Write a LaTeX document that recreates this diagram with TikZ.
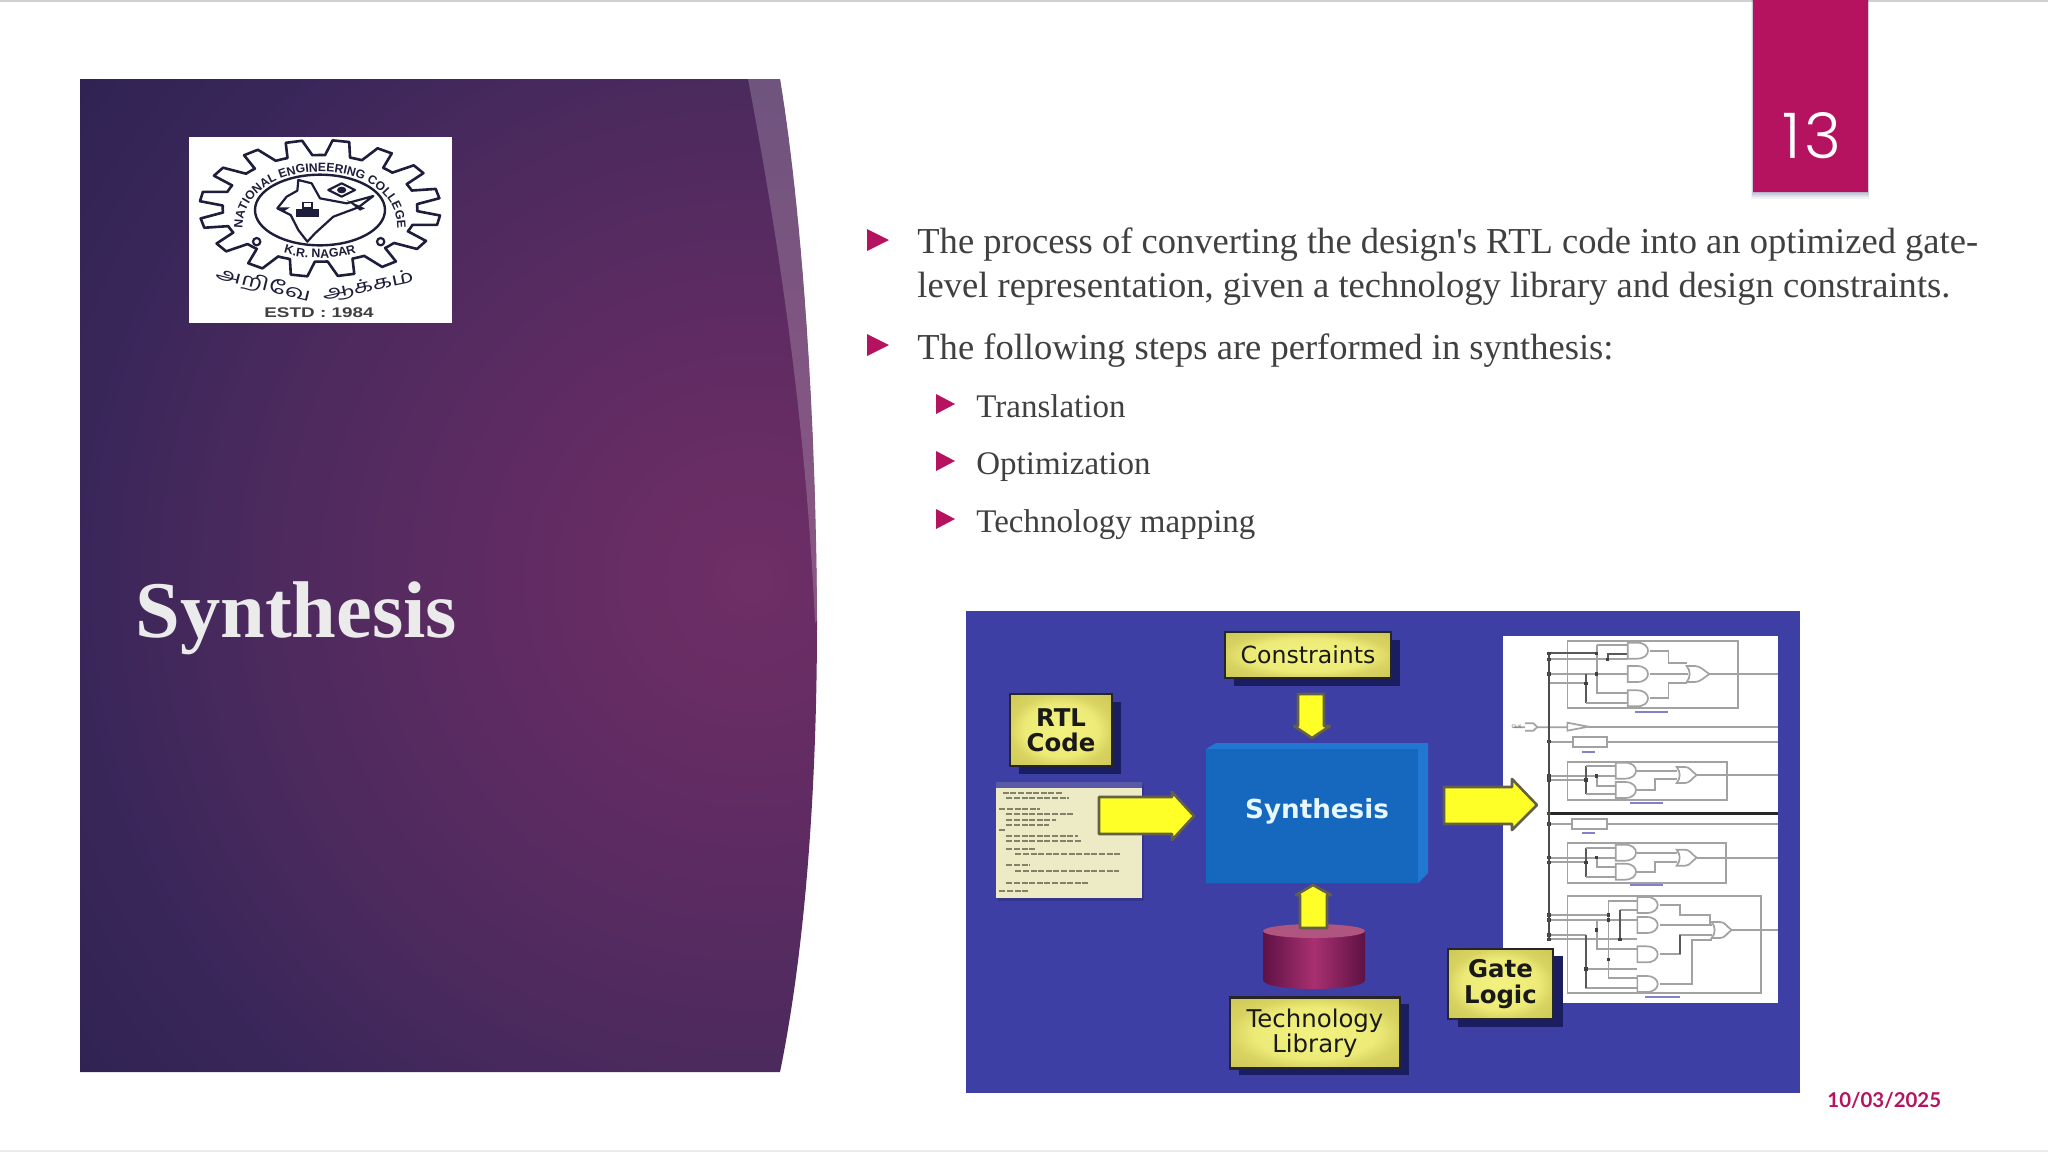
\documentclass[tikz,border=0pt]{standalone}
\usepackage{fontspec}
\usetikzlibrary{decorations.text}
\setmainfont{Liberation Serif}
\newfontfamily\numfont[UprightFont=* Light]{Poppins}
\newfontfamily\datefont{Lato}
\newfontfamily\boxfont{DejaVu Sans}
\newfontfamily\logofont{Liberation Sans}
\newfontfamily\tamilfont[Script=Tamil]{Hind Madurai}
\definecolor{magentab}{HTML}{B5135F}
\definecolor{bodytext}{HTML}{404040}
\definecolor{dbg}{HTML}{3D3FA5}
\definecolor{shad}{HTML}{1A1E60}
\definecolor{inkn}{HTML}{1E1E3C}
\definecolor{gline}{HTML}{A2A2A2}
\definecolor{yell}{HTML}{FFFF28}
\definecolor{synfront}{HTML}{1668BE}
\definecolor{synbevel}{HTML}{2277D0}
\definecolor{codebg}{HTML}{EDEBC5}
\definecolor{cylA}{HTML}{5E1245}
\definecolor{cylB}{HTML}{A83070}
\definecolor{cylT}{HTML}{B0557F}
\pgfdeclareradialshading{panelrad}{\pgfpoint{0bp}{0bp}}{rgb(0bp)=(.435,.18,.40);rgb(7.5bp)=(.375,.17,.385);rgb(15bp)=(.30,.165,.37);rgb(21bp)=(.225,.15,.35);rgb(27bp)=(.18,.135,.32);rgb(50bp)=(.18,.135,.32)}
\pgfdeclareradialshading{boxrad}{\pgfpoint{0bp}{0bp}}{rgb(0bp)=(.95,.95,.50);rgb(18bp)=(.93,.92,.47);rgb(25bp)=(.85,.83,.38);rgb(50bp)=(.74,.71,.30)}
\tikzset{
  yb/.style={draw=black!85,line width=1.1pt,shade,shading=boxrad,inner sep=0pt,align=center,text=black!90},
  bshadow/.style={fill=shad},
  arrowy/.style={fill=yell,draw=black!70!yellow,line width=1.3pt,line join=round},
  bulletm/.style={fill=magentab},
  gl/.style={draw=gline,line width=.85pt},
  gd/.style={draw=black!65,line width=1pt},
  dotd/.style={fill=black!75},
  bodyl/.style={anchor=base west,inner sep=0pt,text=bodytext,font=\fontsize{18.27}{20}\selectfont},
  subl/.style={anchor=base west,inner sep=0pt,text=bodytext,font=\fontsize{16.5}{20}\selectfont},
  logoline/.style={draw=inkn,line width=1.1pt,line join=round},
}
\newcommand\gatea[2]{\draw[gl,fill=white] (#1,#2-24) -- (#1+28,#2-24) .. controls (#1+72,#2-24) and (#1+72,#2+24) .. (#1+28,#2+24) -- (#1,#2+24) -- cycle;}
\newcommand\gateo[3]{\draw[gl,fill=white] (#1,#2-24) -- (#1+25,#2-24) .. controls (#1+40,#2-24) and (#3-15,#2-10) .. (#3,#2) .. controls (#3-15,#2+10) and (#1+40,#2+24) .. (#1+25,#2+24) -- (#1,#2+24) .. controls (#1+12,#2+10) and (#1+12,#2-10) .. (#1,#2-24) -- cycle;}
\newcommand\wdot[2]{\fill[dotd] (#1-5,#2-5) rectangle (#1+5,#2+5);}
\begin{document}
\begin{tikzpicture}[x=0.5pt,y=-0.5pt]
\useasboundingbox (0,0) rectangle (2048,1152);
\fill[white] (0,0) rectangle (2048,1152);
\fill[black!18] (0,0) rectangle (2048,1.5);
\fill[black!8] (0,1150) rectangle (2048,1152);
% left panel
\begin{scope}
\clip (80,79) -- (780,79) .. controls (800,200) and (816,400) .. (817,620) .. controls (817,790) and (805,950) .. (780,1072) -- (80,1072) -- cycle;
\shade[shading=panelrad] (-50,-220) rectangle (1550,1380);
\fill[white,opacity=.2] (748,79) -- (780,79) .. controls (800,200) and (816,400) .. (817,620) -- (815,623) .. controls (808,470) and (790,300) .. (748,79) -- cycle;
\end{scope}
\node[anchor=base west,inner sep=0pt,text=white!92!black,font=\fontsize{40.2}{44}\selectfont\bfseries] (title) at (135,637) {Synthesis};
% logo
\node[fill=white,minimum width=263*0.5pt,minimum height=186*0.5pt,inner sep=0pt,anchor=north west] (logo) at (189,137) {};
\begin{scope}[shift={(170,120)},scale=1/3]
\draw[logoline,line width=1.3pt] ({450+292*cos(0)},{265+160*sin(0)})
 \foreach \a in {0,22.5,...,337.5}{
   -- ({450+292*cos(\a+3)},{265+160*sin(\a+3)})
   -- ({450+362*cos(\a+6)},{265+205*sin(\a+6)})
   -- ({450+362*cos(\a+14)},{265+205*sin(\a+14)})
   -- ({450+292*cos(\a+18)},{265+160*sin(\a+18)})
   -- ({450+292*cos(\a+22.5)},{265+160*sin(\a+22.5)})
 } -- cycle;
\draw[logoline,line width=1.2pt] (450,270) ellipse [x radius=195,y radius=106];
\draw[logoline] (260,365) circle [radius=11];
\draw[logoline] (632,365) circle [radius=11];
\draw[logoline] (385,180) -- (425,190) -- (450,235) -- (530,250) -- (610,228) -- (565,262) -- (490,290) -- (435,340) -- (412,365) -- (385,330) -- (362,285) -- (322,265) -- (350,230) -- (382,212) -- cycle;
\fill[inkn] (378,268) rectangle (448,290);
\fill[inkn] (395,245) rectangle (430,268);
\fill[white] (403,250) rectangle (422,262);
\fill[inkn] (325,262) -- (360,262) -- (340,275) -- cycle;
\draw[logoline,line width=1.1pt] (475,210) -- (515,190) -- (555,210) -- (515,230) -- cycle;
\fill[inkn] (515,210) ellipse [x radius=14,y radius=10];
\fill[inkn] (530,240) -- (585,265) -- (570,272) -- cycle;
\path[decorate,decoration={text along path,text align=center,text={|\logofont\bfseries\fontsize{6.1}{7}\selectfont\color{inkn}|NATIONAL ENGINEERING COLLEGE}}] (218,325) .. controls (218,98) and (682,98) .. (682,325);
\path[decorate,decoration={text along path,text align=center,text={|\logofont\bfseries\fontsize{6.2}{7}\selectfont\color{inkn}|K.R. NAGAR}}] (305,372) .. controls (330,428) and (570,428) .. (595,372);
\node[rotate=-14,inner sep=0pt,text=inkn] (tamA) at (280,495) {\scalebox{1.45}[1]{\tamilfont\fontsize{9}{10}\selectfont அறிவே}};
\node[rotate=12,inner sep=0pt,text=inkn] (tamB) at (595,500) {\scalebox{1.4}[1]{\tamilfont\fontsize{9}{10}\selectfont ஆக்கம்}};
\node[inner sep=0pt,text=black!75] (estd) at (447,578) {\scalebox{1.35}[1]{\logofont\bfseries\fontsize{7}{8}\selectfont ESTD : 1984}};
\end{scope}
% page tab
\foreach \o/\t in {7/.05,5/.07,3/.09,1/.12}{\fill[blue!30!black,opacity=\t] (1753-\o*.3,0) rectangle (1868+\o*.2,192+\o);}
\node[fill=magentab,minimum width=115*0.5pt,minimum height=192*0.5pt,inner sep=0pt,anchor=north west] (tab) at (1753,0) {};
\node[inner sep=0pt,text=white,font=\numfont\fontsize{31.5}{34}\selectfont] (pnum) at (1812,136) {1\kern1.8pt 3};
% body text
\foreach \y in {240,345}{\fill[bulletm] (867,\y-11) -- (889,\y) -- (867,\y+11) -- cycle;}
\foreach \y in {404,461,519}{\fill[bulletm] (936,\y-10) -- (955,\y) -- (936,\y+10) -- cycle;}
\node[bodyl] (l1) at (917,253) {The process of converting the design\textquotesingle s RTL code into an optimized gate-};
\node[bodyl] (l2) at (917,297) {level representation, given a technology library and design constraints.};
\node[bodyl] (l3) at (917,359) {The following steps are performed in synthesis:};
\node[subl] (s1) at (976,417) {Translation};
\node[subl] (s2) at (976,474) {Optimization};
\node[subl] (s3) at (976,532) {Technology mapping};
\node[anchor=base west,inner sep=0pt,text=magentab,font=\datefont\bfseries\fontsize{10.2}{12}\selectfont] (date) at (1827,1107) {10/03/2025};
% diagram background
\fill[dbg] (966,611) rectangle (1800,1093);
% white circuit panel
\fill[white] (1503,636) rectangle (1778,1003);
\begin{scope}[shift={(1480,620)},scale=1/3]
\draw[gl] (262,62) rectangle (773,265);
\draw[gl] (262,425) rectangle (740,540);
\draw[gl] (262,668) rectangle (738,788);
\draw[gl] (262,828) rectangle (842,1118);
\draw[gl] (510,92) -- (565,92) -- (565,130) -- (620,130);
\draw[gl] (510,162) -- (625,162);
\draw[gl] (510,235) -- (565,235) -- (565,190) -- (620,190);
\draw[gl] (688,162) -- (893,162);
\draw[gd] (207,100) -- (350,100) (383,118) -- (383,102) -- (443,102);
\draw[gl] (207,118) -- (383,118) -- (443,118) (350,75) -- (443,75) (350,75) -- (350,220) -- (443,220);
\draw[gl] (207,162) -- (443,162) (207,190) -- (318,190);
\draw[gd] (318,162) -- (318,248);
\draw[gl] (318,248) -- (443,248);
\gatea{443}{92}\gatea{443}{162}\gatea{443}{235}\gateo{620}{162}{688}
\wdot{350}{100}\wdot{383}{118}\wdot{350}{162}\wdot{318}{190}\wdot{207}{100}\wdot{207}{118}\wdot{207}{162}
\draw[gl] (100,322) -- (135,322) (135,310) -- (160,310) -- (172,321) -- (160,332) -- (135,332) (172,322) -- (262,322);
\draw[gl,fill=white] (262,308) -- (325,320) -- (262,332) -- cycle;
\draw[gl] (325,322) -- (893,322);
\node[inner sep=0pt,text=black!60,font=\logofont\fontsize{2.6}{3}\selectfont] (clk) at (110,320) {CLK};
\draw[gl] (207,365) -- (278,365) (380,365) -- (893,365);
\draw[gl,fill=white] (278,350) rectangle (380,380);
\wdot{207}{365}
\draw[gl] (207,468) -- (407,468) (207,480) -- (318,480) (350,468) -- (350,498) -- (407,498);
\draw[gd] (318,438) -- (318,522);
\draw[gl] (318,438) -- (407,438) (318,522) -- (407,522);
\draw[gl] (470,452) -- (590,452) (470,510) -- (525,510) -- (525,478) -- (590,478) (650,465) -- (893,465);
\gatea{407}{452}\gatea{407}{510}\gateo{590}{465}{650}
\wdot{350}{468}\wdot{318}{480}\wdot{207}{468}\wdot{207}{480}
\draw[black!85,line width=1.3pt] (207,580) -- (893,580);
\wdot{207}{580}
\draw[gl] (207,612) -- (275,612) (380,612) -- (893,612);
\draw[gl,fill=white] (275,597) rectangle (380,628);
\wdot{207}{612}
\draw[gl] (207,713) -- (407,713) (207,727) -- (318,727) (350,713) -- (350,742) -- (407,742);
\draw[gd] (318,683) -- (318,770);
\draw[gl] (318,683) -- (407,683) (318,770) -- (407,770);
\draw[gl] (470,698) -- (590,698) (470,755) -- (525,755) -- (525,726) -- (590,726) (650,713) -- (893,713);
\gatea{407}{698}\gatea{407}{755}\gateo{590}{713}{650}
\wdot{350}{713}\wdot{318}{727}\wdot{207}{713}\wdot{207}{727}
\draw[gl] (207,885) -- (385,885) (207,900) -- (472,900) (207,945) -- (318,945) (207,958) -- (472,958);
\draw[gl] (385,842) -- (472,842) (385,842) -- (385,1075) -- (472,1075) (350,900) -- (350,988) -- (472,988) (318,945) -- (318,1105) -- (472,1105) (318,1047) -- (472,1047) (420,870) -- (472,870);
\draw[gd] (420,870) -- (420,958) (318,945) -- (318,1105);
\draw[gl] (540,855) -- (600,855) -- (600,885) -- (690,885) -- (690,915);
\draw[gl] (540,915) -- (695,915) (540,1003) -- (600,1003) -- (600,945) -- (695,945) (540,1092) -- (635,1092) -- (635,960) -- (695,960);
\draw[gd] (600,945) -- (600,1003);
\draw[gl] (755,930) -- (893,930);
\gatea{472}{855}\gatea{472}{915}\gatea{472}{1003}\gatea{472}{1092}\gateo{695}{930}{755}
\wdot{385}{885}\wdot{385}{900}\wdot{350}{930}\wdot{420}{958}\wdot{385}{1018}\wdot{318}{1047}\wdot{207}{885}\wdot{207}{900}\wdot{207}{945}\wdot{207}{958}
\draw[black!70,line width=1.1pt] (207,100) -- (207,960);
\foreach \xa/\xb/\yy in {465/565/277,450/550/548,450/550/795,495/600/1130,305/345/395,305/345/638}{\draw[blue!40!gray!70,line width=1pt] (\xa,\yy) -- (\xb,\yy);}
\end{scope}
% code window
\fill[black!15!dbg] (998,785) rectangle (1144,901);
\fill[codebg] (996,782) rectangle (1142,898);
\fill[gray!70!blue] (996,782) rectangle (1142,788);
\begin{scope}[shift={(960,600)},xscale=1/2.8,yscale=1/3]
\foreach \xa/\xb/\yy in {120/285/580,130/305/595,110/225/628,130/315/643,130/270/660,130/250/675,110/125/690,130/330/707,130/340/724,130/210/748,155/450/762,130/195/795,155/445/812,130/360/850,110/190/873}{\draw[black!45!codebg,line width=.9pt,dash pattern=on 3pt off .8pt] (\xa,\yy) -- (\xb,\yy);}
\end{scope}
% synthesis block
\fill[synbevel] (1206,749) -- (1216,743) -- (1428,743) -- (1428,873) -- (1418,883) -- (1206,883) -- cycle;
\fill[synfront] (1206,749) rectangle (1418,883);
\node[inner sep=0pt,text=cyan!10!white,font=\boxfont\bfseries\fontsize{13.1}{15}\selectfont] (synth) at (1317,811) {Synthesis};
% boxes
\fill[bshadow] (1234,640) rectangle (1400,686);
\node[yb,minimum width=166*0.5pt,minimum height=46*0.5pt,font=\boxfont\fontsize{11.8}{14}\selectfont] (con) at (1308,655) {\raisebox{.7pt}{Constraints}};
\fill[bshadow] (1019,702) rectangle (1121,774);
\node[yb,minimum width=102*0.5pt,minimum height=72*0.5pt,font=\boxfont\bfseries\fontsize{12.2}{12.6}\selectfont] (rtl) at (1061,730) {RTL\\Code};
\fill[bshadow] (1239,1004) rectangle (1409,1075);
\node[yb,minimum width=170*0.5pt,minimum height=71*0.5pt,font=\boxfont\fontsize{12.2}{12.6}\selectfont] (tech) at (1315,1033) {Technology\\Library};
\fill[bshadow] (1458,956) rectangle (1563,1027);
\node[yb,minimum width=105*0.5pt,minimum height=70*0.5pt,font=\boxfont\bfseries\fontsize{12.2}{12.6}\selectfont] (gate) at (1500.5,984) {Gate\\Logic};
% cylinder
\shade[left color=cylA,right color=cylA,middle color=cylB] (1263,931) -- (1263,980) .. controls (1263,992) and (1365,992) .. (1365,980) -- (1365,931) -- cycle;
\fill[cylT] (1314,931) ellipse [x radius=51,y radius=7];
% block arrows
\draw[arrowy] (1099,797) -- (1172,797) -- (1172,792) -- (1194,816) -- (1172,840) -- (1172,834) -- (1099,834) -- cycle;
\draw[arrowy] (1298,694) -- (1324,694) -- (1324,726) -- (1330,726) -- (1312,738) -- (1294,726) -- (1298,726) -- cycle;
\draw[arrowy] (1300,928) -- (1327,928) -- (1327,895) -- (1331,895) -- (1313,885) -- (1296,895) -- (1300,895) -- cycle;
\draw[arrowy] (1444,787) -- (1512,787) -- (1512,779) -- (1537,805) -- (1512,830) -- (1512,824) -- (1444,824) -- cycle;
\end{tikzpicture}
\end{document}
